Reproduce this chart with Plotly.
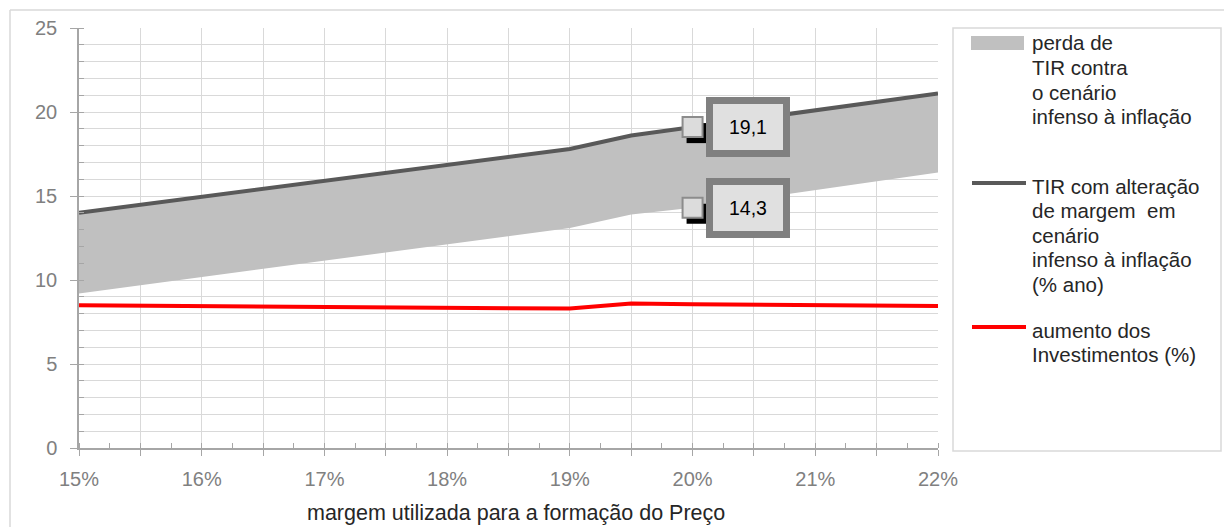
import plotly.graph_objects as go

# Margem utilizada (fração) e séries
margem = [0.15, 0.19, 0.195, 0.20, 0.22]
tir_margem = [14.0, 17.8, 18.6, 19.1, 21.1]      # TIR com alteração de margem (% ano)
tir_inferior = [9.2, 13.1, 13.9, 14.3, 16.4]     # limite inferior da faixa de perda de TIR
investimentos = [8.5, 8.3, 8.6, 8.55, 8.45]      # aumento dos Investimentos (%)

x_ticks = [0.15, 0.155, 0.16, 0.165, 0.17, 0.175, 0.18, 0.185, 0.19, 0.195,
           0.20, 0.205, 0.21, 0.215, 0.22]
x_labels = ["15%", "", "16%", "", "17%", "", "18%", "", "19%", "", "20%", "",
            "21%", "", "22%"]
y_ticks = [0, 5, 10, 15, 20, 25]

legend_entries = [
    ("area", "#c0c0c0", ["perda de", "TIR contra", "o cenário", "infenso à inflação"]),
    ("line", "#595959", ["TIR com alteração", "de margem  em", "cenário",
                         "infenso à inflação", "(% ano)"]),
    ("line", "#ff0000", ["aumento dos", "Investimentos (%)"]),
]

W, H = 1224, 527
ML, MR, MT, MB = 79, 286, 28, 79
PW, PH = W - ML - MR, H - MT - MB
FONT = "Liberation Sans, Arial, sans-serif"


def px(x):
    return (x - ML) / PW


def py(y):
    return (H - MB - y) / PH


fig = go.Figure()

# faixa cinza entre as duas curvas de TIR
fig.add_trace(go.Scatter(x=margem, y=tir_inferior, mode="lines",
                         line=dict(width=0, color="#c0c0c0"), hoverinfo="skip",
                         showlegend=False))
fig.add_trace(go.Scatter(x=margem, y=tir_margem, mode="lines", fill="tonexty",
                         fillcolor="#c0c0c0", line=dict(width=0, color="#c0c0c0"),
                         showlegend=False))
fig.add_trace(go.Scatter(x=margem, y=tir_margem, mode="lines",
                         line=dict(width=4, color="#595959"), showlegend=False))
fig.add_trace(go.Scatter(x=margem, y=investimentos, mode="lines",
                         line=dict(width=4, color="#ff0000"), showlegend=False))

shapes = []
annotations = []

# rótulos de dados no ponto de 20%
i20 = margem.index(0.20)
for serie in (tir_margem, tir_inferior):
    xv, yv = margem[i20], serie[i20]
    shapes.append(dict(type="rect", xref="x", yref="y", xsizemode="pixel",
                       ysizemode="pixel", xanchor=xv, yanchor=yv,
                       x0=-6, x1=14, y0=-16, y1=4,
                       fillcolor="#000000", line=dict(width=0)))
    shapes.append(dict(type="rect", xref="x", yref="y", xsizemode="pixel",
                       ysizemode="pixel", xanchor=xv, yanchor=yv,
                       x0=-10, x1=10, y0=-10, y1=10,
                       fillcolor="#dcdcdc", line=dict(width=2, color="#8c8c8c")))
    annotations.append(dict(x=xv, y=yv, xref="x", yref="y",
                            text=f"{yv:.1f}".replace(".", ","),
                            showarrow=True, arrowcolor="rgba(0,0,0,0)", arrowwidth=0.1,
                            ax=55, ay=0, width=58, height=34, borderpad=6,
                            bgcolor="#e0e0e0", bordercolor="#808080", borderwidth=7,
                            font=dict(family=FONT, size=19.5, color="#000000")))

# moldura externa e caixa da legenda
shapes.append(dict(type="line", xref="paper", yref="paper", x0=px(10), x1=px(1240),
                   y0=py(10), y1=py(10), line=dict(color="#d9d9d9", width=1.5)))
shapes.append(dict(type="line", xref="paper", yref="paper", x0=px(10), x1=px(10),
                   y0=py(10), y1=py(540), line=dict(color="#d9d9d9", width=1.5)))
shapes.append(dict(type="rect", xref="paper", yref="paper", x0=px(953), x1=px(1221),
                   y0=py(451), y1=py(28), line=dict(color="#d9d9d9", width=1.5),
                   fillcolor="rgba(0,0,0,0)"))

# itens da legenda
entry_top = [43, 186, 330]
for (kind, color, lines), y0 in zip(legend_entries, entry_top):
    if kind == "area":
        shapes.append(dict(type="rect", xref="paper", yref="paper",
                           x0=px(971), x1=px(1024), y0=py(50), y1=py(36),
                           fillcolor=color, line=dict(width=0)))
    else:
        shapes.append(dict(type="line", xref="paper", yref="paper",
                           x0=px(972), x1=px(1026), y0=py(y0 - 3), y1=py(y0 - 3),
                           line=dict(color=color, width=4)))
    for k, txt in enumerate(lines):
        annotations.append(dict(x=px(1030), y=py(y0 + 24.6 * k), xref="paper",
                                yref="paper", text=txt, showarrow=False,
                                xanchor="left", yanchor="middle",
                                font=dict(family=FONT, size=20.5, color="#262626")))

# título do eixo x
annotations.append(dict(x=px(516), y=py(513), xref="paper", yref="paper",
                        text="margem utilizada para a formação do Preço",
                        showarrow=False, xanchor="center", yanchor="middle",
                        font=dict(family=FONT, size=21.5, color="#262626")))

fig.update_layout(
    width=W, height=H,
    margin=dict(l=ML, r=MR, t=MT, b=MB),
    paper_bgcolor="#ffffff", plot_bgcolor="#ffffff",
    showlegend=False,
    shapes=shapes, annotations=annotations,
    xaxis=dict(range=[0.15, 0.22], tickmode="array", tickvals=x_ticks,
               ticktext=x_labels, ticks="outside", ticklen=6, tickcolor="#a6a6a6",
               showgrid=True, gridcolor="#d9d9d9", gridwidth=1,
               showline=True, linecolor="#a6a6a6", linewidth=1.5,
               zeroline=False, ticklabelstandoff=6,
               tickfont=dict(family=FONT, size=20, color="#808080"),
               minor=dict(dtick=0.0025, ticks="inside", ticklen=5,
                          tickcolor="#a6a6a6", showgrid=False)),
    yaxis=dict(range=[0, 25], tickmode="array", tickvals=y_ticks,
               ticks="outside", ticklen=7, tickcolor="#a6a6a6",
               showgrid=True, gridcolor="#d9d9d9", gridwidth=1,
               showline=True, linecolor="#a6a6a6", linewidth=1.5,
               zeroline=False, ticklabelstandoff=9,
               tickfont=dict(family=FONT, size=20, color="#808080"),
               minor=dict(dtick=1, ticks="inside", ticklen=5, tickcolor="#a6a6a6",
                          showgrid=True, gridcolor="#d9d9d9", gridwidth=1)),
)

fig.write_html("out.html")
